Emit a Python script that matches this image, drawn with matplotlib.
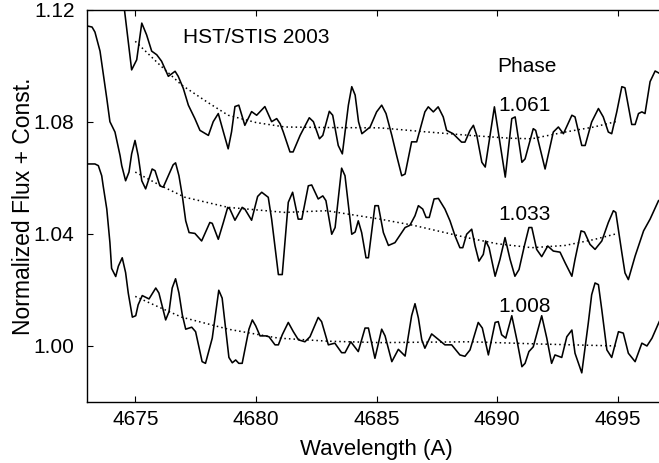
"""
# =============================================================================
# HST/STIS 2003 SPECTRA
# Normalized spectra around 4686 A at three phases
# =============================================================================
"""


# =============================================================================
# IMPORTS
# =============================================================================

import matplotlib
matplotlib.use('Agg')
import matplotlib.pyplot as plt


# =============================================================================
# DATA
# =============================================================================

# Phase 1.061 (top).
wl_1061 = [4674.40, 4674.85, 4675.06, 4675.27, 4675.47, 4675.68, 4675.89, 4676.09, 4676.37, 4676.65,
           4676.78, 4676.99, 4677.20, 4677.47, 4677.68, 4678.03, 4678.23, 4678.44, 4678.65, 4678.85,
           4678.99, 4679.13, 4679.29, 4679.54, 4679.82, 4680.03, 4680.37, 4680.65, 4680.86, 4681.00,
           4681.13, 4681.41, 4681.54, 4681.83, 4682.21, 4682.38, 4682.63, 4682.77, 4683.04, 4683.18,
           4683.41, 4683.58, 4683.83, 4683.97, 4684.11, 4684.25, 4684.39, 4684.73, 4685.00, 4685.21,
           4685.39, 4685.63, 4685.83, 4686.04, 4686.18, 4686.45, 4686.66, 4687.00, 4687.14, 4687.35,
           4687.55, 4687.76, 4687.90, 4688.17, 4688.52, 4688.66, 4688.87, 4689.01, 4689.15, 4689.36,
           4689.50, 4689.88, 4690.33, 4690.60, 4690.74, 4691.02, 4691.15, 4691.49, 4691.59, 4691.98,
           4692.32, 4692.53, 4692.74, 4693.09, 4693.22, 4693.50, 4693.64, 4693.91, 4694.19, 4694.39,
           4694.60, 4694.74, 4694.95, 4695.16, 4695.29, 4695.57, 4695.71, 4695.85, 4695.99, 4696.12,
           4696.33, 4696.54, 4696.71]
fl_1061 = [1.1310, 1.0986, 1.1022, 1.1153, 1.1111, 1.1053, 1.1040, 1.1017, 1.0963, 1.0981,
           1.0963, 1.0920, 1.0860, 1.0812, 1.0770, 1.0752, 1.0801, 1.0830, 1.0765, 1.0704,
           1.0765, 1.0855, 1.0860, 1.0788, 1.0837, 1.0824, 1.0855, 1.0801, 1.0812, 1.0794,
           1.0765, 1.0693, 1.0693, 1.0752, 1.0815, 1.0801, 1.0740, 1.0752, 1.0838, 1.0824,
           1.0716, 1.0686, 1.0860, 1.0926, 1.0896, 1.0801, 1.0758, 1.0782, 1.0836, 1.0860,
           1.0830, 1.0752, 1.0680, 1.0608, 1.0614, 1.0729, 1.0729, 1.0836, 1.0854, 1.0836,
           1.0854, 1.0818, 1.0770, 1.0758, 1.0728, 1.0728, 1.0770, 1.0788, 1.0752, 1.0656,
           1.0639, 1.0854, 1.0603, 1.0812, 1.0818, 1.0656, 1.0668, 1.0776, 1.0770, 1.0632,
           1.0764, 1.0782, 1.0758, 1.0824, 1.0818, 1.0716, 1.0716, 1.0800, 1.0848, 1.0818,
           1.0764, 1.0758, 1.0836, 1.0926, 1.0922, 1.0791, 1.0791, 1.0830, 1.0836, 1.0830,
           1.0944, 1.0982, 1.0974]

# Phase 1.033 (middle).
wl_1033 = [4673.00, 4673.21, 4673.33, 4673.54, 4673.82, 4673.95, 4674.16, 4674.37, 4674.44, 4674.60,
           4674.74, 4674.85, 4674.99, 4675.12, 4675.27, 4675.43, 4675.70, 4675.82, 4676.02, 4676.16,
           4676.37, 4676.57, 4676.67, 4676.81, 4676.95, 4677.09, 4677.23, 4677.47, 4677.75, 4678.09,
           4678.19, 4678.44, 4678.65, 4678.83, 4678.92, 4679.13, 4679.43, 4679.54, 4679.82, 4680.07,
           4680.24, 4680.51, 4680.65, 4680.93, 4681.09, 4681.34, 4681.52, 4681.75, 4681.90, 4682.17,
           4682.31, 4682.58, 4682.77, 4682.90, 4683.14, 4683.28, 4683.55, 4683.69, 4683.97, 4684.11,
           4684.24, 4684.38, 4684.56, 4684.66, 4684.93, 4685.07, 4685.28, 4685.49, 4685.76, 4686.18,
           4686.38, 4686.59, 4686.73, 4686.91, 4687.05, 4687.18, 4687.38, 4687.56, 4687.83, 4688.04,
           4688.25, 4688.45, 4688.57, 4688.73, 4688.94, 4689.08, 4689.24, 4689.42, 4689.52, 4689.66,
           4689.91, 4690.11, 4690.32, 4690.53, 4690.73, 4690.90, 4691.12, 4691.31, 4691.43, 4691.63,
           4691.84, 4692.09, 4692.32, 4692.60, 4692.81, 4693.09, 4693.22, 4693.47, 4693.61, 4693.84,
           4694.05, 4694.33, 4694.60, 4694.81, 4694.91, 4695.16, 4695.29, 4695.43, 4695.71, 4696.06,
           4696.33, 4696.68]
fl_1033 = [1.1143, 1.1139, 1.1121, 1.1053, 1.0884, 1.0801, 1.0764, 1.0680, 1.0644, 1.0590,
           1.0621, 1.0686, 1.0734, 1.0680, 1.0590, 1.0561, 1.0632, 1.0626, 1.0572, 1.0567,
           1.0608, 1.0647, 1.0654, 1.0608, 1.0536, 1.0447, 1.0405, 1.0402, 1.0375, 1.0441,
           1.0438, 1.0381, 1.0441, 1.0495, 1.0489, 1.0449, 1.0495, 1.0489, 1.0449, 1.0534,
           1.0549, 1.0531, 1.0453, 1.0255, 1.0255, 1.0513, 1.0549, 1.0453, 1.0453, 1.0572,
           1.0575, 1.0525, 1.0536, 1.0519, 1.0399, 1.0423, 1.0635, 1.0608, 1.0399, 1.0407,
           1.0447, 1.0405, 1.0315, 1.0315, 1.0501, 1.0501, 1.0405, 1.0359, 1.0369, 1.0423,
           1.0431, 1.0465, 1.0501, 1.0489, 1.0459, 1.0459, 1.0525, 1.0527, 1.0489, 1.0447,
           1.0393, 1.0351, 1.0351, 1.0399, 1.0417, 1.0357, 1.0303, 1.0327, 1.0375, 1.0351,
           1.0249, 1.0309, 1.0387, 1.0309, 1.0249, 1.0273, 1.0357, 1.0423, 1.0423, 1.0345,
           1.0319, 1.0357, 1.0339, 1.0335, 1.0297, 1.0249, 1.0309, 1.0411, 1.0407, 1.0363,
           1.0345, 1.0375, 1.0441, 1.0483, 1.0477, 1.0333, 1.0261, 1.0237, 1.0321, 1.0411,
           1.0453, 1.0519]

# Phase 1.008 (bottom).
wl_1008 = [4673.00, 4673.33, 4673.47, 4673.61, 4673.67, 4673.82, 4673.95, 4674.02, 4674.19, 4674.30,
           4674.46, 4674.60, 4674.71, 4674.88, 4675.02, 4675.12, 4675.29, 4675.57, 4675.85, 4675.98,
           4676.26, 4676.40, 4676.53, 4676.67, 4676.81, 4676.95, 4677.09, 4677.34, 4677.50, 4677.77,
           4677.91, 4678.19, 4678.46, 4678.60, 4678.88, 4679.02, 4679.16, 4679.29, 4679.43, 4679.71,
           4679.85, 4679.99, 4680.17, 4680.40, 4680.54, 4680.79, 4680.93, 4681.09, 4681.34, 4681.55,
           4681.76, 4682.03, 4682.24, 4682.58, 4682.72, 4683.00, 4683.27, 4683.55, 4683.69, 4683.93,
           4684.24, 4684.52, 4684.66, 4684.93, 4685.21, 4685.35, 4685.63, 4685.90, 4686.18, 4686.45,
           4686.59, 4686.73, 4686.87, 4687.00, 4687.28, 4687.55, 4687.83, 4688.11, 4688.45, 4688.66,
           4688.87, 4689.21, 4689.38, 4689.63, 4689.91, 4690.04, 4690.18, 4690.35, 4690.60, 4690.81,
           4691.02, 4691.15, 4691.31, 4691.49, 4691.84, 4692.05, 4692.25, 4692.39, 4692.67, 4692.88,
           4693.09, 4693.22, 4693.50, 4693.77, 4693.91, 4694.05, 4694.19, 4694.33, 4694.54, 4694.74,
           4695.02, 4695.22, 4695.43, 4695.71, 4695.99, 4696.20, 4696.41, 4696.71]
fl_1008 = [1.0650, 1.0650, 1.0644, 1.0608, 1.0572, 1.0489, 1.0369, 1.0277, 1.0248, 1.0285,
           1.0315, 1.0262, 1.0189, 1.0103, 1.0108, 1.0147, 1.0180, 1.0168, 1.0207, 1.0189,
           1.0093, 1.0123, 1.0207, 1.0240, 1.0189, 1.0111, 1.0060, 1.0067, 1.0051, 0.9944,
           0.9938, 1.0028, 1.0199, 1.0171, 0.9959, 0.9940, 0.9950, 0.9938, 0.9938, 1.0060,
           1.0093, 1.0072, 1.0036, 1.0036, 1.0033, 1.0004, 1.0004, 1.0040, 1.0084, 1.0051,
           1.0022, 1.0015, 1.0033, 1.0102, 1.0087, 1.0004, 1.0010, 0.9976, 0.9976, 1.0015,
           0.9980, 1.0064, 1.0064, 0.9956, 1.0060, 1.0036, 0.9944, 0.9988, 0.9964, 1.0108,
           1.0151, 1.0100, 1.0022, 0.9992, 1.0043, 1.0024, 1.0004, 1.0004, 0.9968, 0.9963,
           0.9986, 1.0084, 1.0064, 0.9968, 1.0084, 1.0087, 1.0040, 1.0028, 1.0108, 1.0022,
           0.9926, 0.9938, 0.9980, 0.9997, 1.0108, 1.0028, 0.9938, 0.9968, 0.9959, 1.0033,
           1.0057, 0.9974, 0.9904, 1.0082, 1.0183, 1.0225, 1.0219, 1.0129, 0.9986, 0.9959,
           1.0051, 1.0046, 0.9974, 0.9944, 1.0010, 1.0000, 1.0028, 1.0087]

# Smooth fits (dotted).
fitwl_1061 = [4675.00, 4676.00, 4676.92, 4678.00, 4678.85, 4680.00, 4681.20, 4683.00,
              4685.14, 4687.00, 4688.87, 4690.50, 4691.43, 4692.81, 4694.00, 4694.95]
fit_1061 = [1.1088, 1.1005, 1.0932, 1.0870, 1.0824, 1.0798, 1.0782, 1.0780,
            1.0779, 1.0765, 1.0752, 1.0742, 1.0740, 1.0764, 1.0782, 1.0802]
fitwl_1033 = [4675.00, 4676.00, 4677.06, 4678.85, 4681.20, 4682.93, 4685.14,
              4686.52, 4688.73, 4690.00, 4691.43, 4692.81, 4694.00, 4694.95]
fit_1033 = [1.0621, 1.0575, 1.0531, 1.0495, 1.0477, 1.0483, 1.0453,
            1.0431, 1.0387, 1.0365, 1.0351, 1.0359, 1.0380, 1.0401]
fitwl_1008 = [4675.00, 4676.00, 4676.92, 4678.85, 4680.93, 4683.00, 4685.14,
              4688.87, 4691.76, 4694.95]
fit_1008 = [1.0177, 1.0138, 1.0103, 1.0060, 1.0028, 1.0017, 1.0012,
            1.0015, 1.0007, 1.0000]

phase_labels = ['1.061', '1.033', '1.008']
phase_label_y = [1.0838, 1.0449, 1.0123]

xticks = [4675, 4680, 4685, 4690, 4695]
yticks = [1.00, 1.04, 1.08, 1.12]


# =============================================================================
# PLOT
# =============================================================================

plt.rcParams['font.family'] = ['Liberation Sans', 'DejaVu Sans']
fs = 15

fig = plt.figure(figsize=(6.59, 4.63), dpi=100)
ax = fig.add_axes([0.132, 0.1318, 0.879, 0.8467])

spectra = [(wl_1061, fl_1061), (wl_1033, fl_1033), (wl_1008, fl_1008)]
fits = [(fitwl_1061, fit_1061), (fitwl_1033, fit_1033), (fitwl_1008, fit_1008)]

for wl, fl in spectra:
    ax.plot(wl, fl, color='black', lw=1.15, solid_joinstyle='round')
for wl, fl in fits:
    ax.plot(wl, fl, color='black', lw=1.1, linestyle=(0, (1, 2)))

ax.set_xlim(4673, 4697)
ax.set_ylim(0.98, 1.12)
ax.set_xticks(xticks)
ax.set_yticks(yticks)
ax.set_yticklabels(['%.2f' % t for t in yticks])
ax.tick_params(direction='in', top=True, right=False, length=4, width=0.8,
               labelsize=fs)
ax.tick_params(axis='x', pad=6)
ax.tick_params(axis='y', pad=9)
for s in ax.spines.values():
    s.set_linewidth(1.0)

ax.set_xlabel('Wavelength (A)', fontsize=16, labelpad=7)
ax.set_ylabel('Normalized Flux + Const.', fontsize=16.5, labelpad=-1)

ax.text(4676.98, 1.1082, 'HST/STIS 2003', fontsize=fs, ha='left', va='baseline')
ax.text(4690.0, 1.0977, 'Phase', fontsize=fs, ha='left', va='baseline')
for lab, y in zip(phase_labels, phase_label_y):
    ax.text(4690.04, y, lab, fontsize=fs, ha='left', va='baseline')

plt.savefig('out.png', dpi=100)
plt.close()
